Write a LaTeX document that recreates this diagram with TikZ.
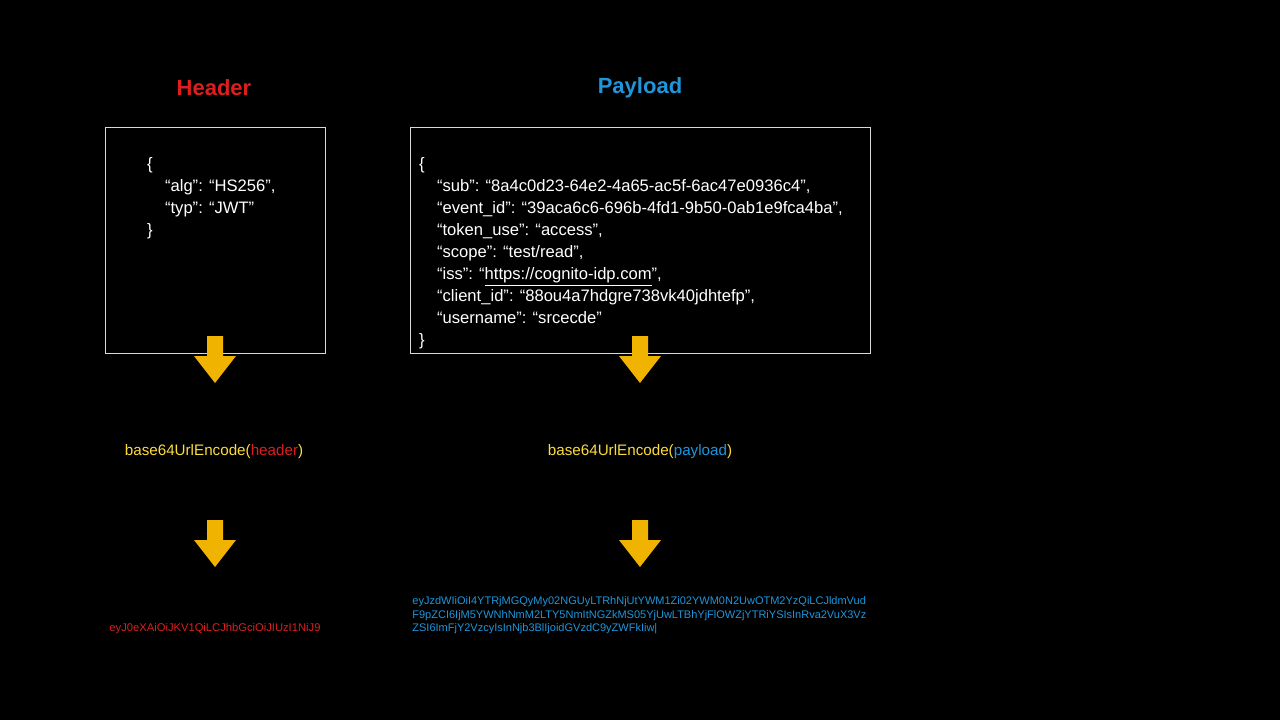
\documentclass[tikz,border=0pt]{standalone}
\usepackage{fontspec}
\setmainfont{Liberation Sans}
\definecolor{hred}{RGB}{220,30,30}
\definecolor{pblue}{RGB}{30,150,220}
\definecolor{ayel}{RGB}{240,180,0}
\definecolor{fyel}{RGB}{250,220,60}
\begin{document}
\begin{tikzpicture}[x=0.5pt,y=-0.5pt,
  title/.style={font=\fontsize{11}{13}\selectfont\bfseries},
  jbox/.style={draw=white!85!black,line width=0.5pt,anchor=north west,inner sep=0},
  code/.style={text=white,font=\fontsize{8.3}{11}\selectfont,align=left,anchor=north west},
  enc/.style={font=\fontsize{7.6}{9}\selectfont},
  tok/.style={font=\fontsize{5.5}{6.9}\selectfont,align=left}]
\fill[black] (0,0) rectangle (1280,720);
\useasboundingbox (0,0) rectangle (1280,720);
\node[title,text=hred] (ht) at (214,88) {Header};
\node[title,text=pblue] (pt) at (640,88) {Payload};
\node[jbox,minimum width=110pt,minimum height=113pt] (hb) at (105,127) {};
\node[jbox,minimum width=230pt,minimum height=113pt] (pb) at (410,127) {};
\node[code] (hc) at (140,150) {\{\\\hspace*{9pt}“alg”: “HS256”,\\\hspace*{9pt}“typ”: “JWT”\\\}};
\node[code] (pc) at (412,150) {\{\\\hspace*{9pt}“sub”: “8a4c0d23-64e2-4a65-ac5f-6ac47e0936c4”,\\\hspace*{9pt}“event\_id”: “39aca6c6-696b-4fd1-9b50-0ab1e9fca4ba”,\\\hspace*{9pt}“token\_use”: “access”,\\\hspace*{9pt}“scope”: “test/read”,\\\hspace*{9pt}“iss”: “\underline{https://cognito-idp.com}”,\\\hspace*{9pt}“client\_id”: “88ou4a7hdgre738vk40jdhtefp”,\\\hspace*{9pt}“username”: “srcecde”\\\}};
\foreach \n/\xx/\yy in {a1/215/336,a2/640/336,a3/215/520,a4/640/520}{
  \fill[ayel] (\xx-8,\yy) -- (\xx+8,\yy) -- (\xx+8,\yy+20) -- (\xx+21,\yy+20) -- (\xx,\yy+47) -- (\xx-21,\yy+20) -- (\xx-8,\yy+20) -- cycle;
}
\node[enc] (he) at (214,452) {\textcolor{fyel}{base64UrlEncode(}\textcolor{hred}{header}\textcolor{fyel}{)}};
\node[enc] (pe) at (640,452) {\textcolor{fyel}{base64UrlEncode(}\textcolor{pblue}{payload}\textcolor{fyel}{)}};
\node[tok,text=hred,font=\fontsize{5.6}{6.9}\selectfont] (hk) at (215,629) {eyJ0eXAiOiJKV1QiLCJhbGciOiJIUzI1NiJ9};
\node[tok,text=pblue,anchor=north west,inner sep=0] (pk) at (412,596) {eyJzdWIiOiI4YTRjMGQyMy02NGUyLTRhNjUtYWM1Zi02YWM0N2UwOTM2YzQiLCJldmVud\\F9pZCI6IjM5YWNhNmM2LTY5NmItNGZkMS05YjUwLTBhYjFlOWZjYTRiYSIsInRva2VuX3Vz\\ZSI6ImFjY2VzcyIsInNjb3BlIjoidGVzdC9yZWFkIiw|};
\end{tikzpicture}
\end{document}
